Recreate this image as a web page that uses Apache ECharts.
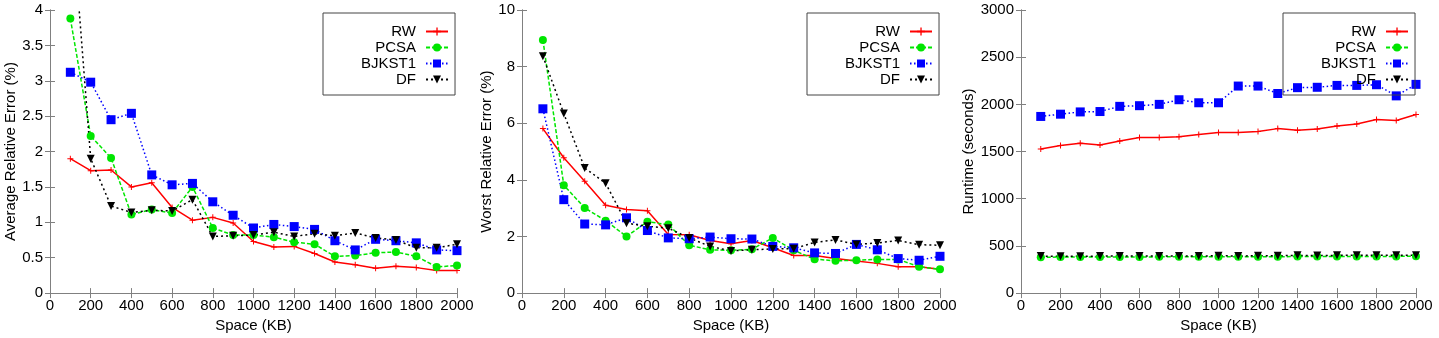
<!DOCTYPE html>
<html>
<head>
    <meta charset="utf-8">
    <title>RW / PCSA / BJKST1 / DF</title>
    <script src="https://cdn.jsdelivr.net/npm/echarts@6/dist/echarts.min.js"></script>
    <style>
        body, html { margin: 0; padding: 0; background: #fff; }
        #main { width: 1439px; height: 338px; }
    </style>
</head>
<body>
    <div id="main"></div>
    <script>
        // x values (Space, KB)
        const space = [100, 200, 300, 400, 500, 600, 700, 800, 900, 1000,
                       1100, 1200, 1300, 1400, 1500, 1600, 1700, 1800, 1900, 2000];
        const names = ['RW', 'PCSA', 'BJKST1', 'DF'];

        // Average relative error (%)
        const avgRW     = [1.90, 1.73, 1.74, 1.50, 1.56, 1.21, 1.03, 1.07, 0.99, 0.73, 0.65, 0.66, 0.56, 0.44, 0.40, 0.35, 0.38, 0.36, 0.32, 0.32];
        const avgPCSA   = [3.88, 2.22, 1.91, 1.11, 1.18, 1.13, 1.50, 0.92, 0.82, 0.82, 0.79, 0.72, 0.69, 0.52, 0.53, 0.57, 0.58, 0.52, 0.37, 0.39];
        const avgBJKST1 = [3.12, 2.98, 2.45, 2.54, 1.67, 1.53, 1.55, 1.29, 1.10, 0.92, 0.97, 0.94, 0.90, 0.74, 0.61, 0.76, 0.74, 0.71, 0.61, 0.60];
        const avgDF     = [5.60, 1.90, 1.23, 1.14, 1.17, 1.16, 1.32, 0.80, 0.81, 0.82, 0.86, 0.80, 0.84, 0.81, 0.85, 0.78, 0.75, 0.64, 0.64, 0.69];

        // Worst relative error (%)
        const worRW     = [5.81, 4.78, 3.95, 3.10, 2.95, 2.91, 2.07, 2.06, 1.86, 1.74, 1.86, 1.60, 1.33, 1.33, 1.22, 1.13, 1.05, 0.93, 0.93, 0.84];
        const worPCSA   = [8.94, 3.81, 3.01, 2.56, 2.00, 2.52, 2.42, 1.69, 1.53, 1.51, 1.55, 1.95, 1.51, 1.20, 1.14, 1.16, 1.19, 1.19, 0.93, 0.84];
        const worBJKST1 = [6.51, 3.30, 2.44, 2.41, 2.66, 2.21, 1.95, 1.92, 1.98, 1.92, 1.91, 1.65, 1.60, 1.42, 1.40, 1.72, 1.53, 1.22, 1.16, 1.30];
        const worDF     = [8.37, 6.34, 4.42, 3.88, 2.47, 2.36, 2.29, 1.95, 1.65, 1.49, 1.53, 1.56, 1.57, 1.79, 1.88, 1.72, 1.77, 1.86, 1.71, 1.69];

        // Runtime (seconds)
        const runRW     = [1528, 1563, 1587, 1570, 1611, 1649, 1649, 1656, 1681, 1701, 1701, 1712, 1743, 1726, 1740, 1771, 1792, 1840, 1830, 1892];
        const runPCSA   = [380, 382, 382, 383, 383, 383, 384, 384, 385, 385, 385, 386, 386, 387, 387, 388, 388, 389, 389, 390];
        const runBJKST1 = [1872, 1896, 1920, 1924, 1979, 1986, 2000, 2049, 2017, 2017, 2194, 2194, 2115, 2177, 2181, 2201, 2201, 2208, 2090, 2212];
        const runDF     = [392, 390, 391, 392, 393, 392, 393, 394, 394, 395, 394, 395, 396, 400, 398, 400, 401, 400, 401, 402];

        const panels = [
            { title: 'Average Relative Error (%)', max: 4, step: 0.5, data: [avgRW, avgPCSA, avgBJKST1, avgDF] },
            { title: 'Worst Relative Error (%)', max: 10, step: 2, data: [worRW, worPCSA, worBJKST1, worDF] },
            { title: 'Runtime (seconds)', max: 3000, step: 500, data: [runRW, runPCSA, runBJKST1, runDF] }
        ];

        // plot frames (pixels) and layout bits
        const grids = [
            { left: 50, right: 982, top: 10, bottom: 41 },
            { left: 522, right: 499, top: 10, bottom: 41 },
            { left: 1021, right: 23, top: 10, bottom: 41 }
        ];
        const nameGaps = [30, 26, 45];
        const legendLeft = [323, 807, 1283];

        const styles = [
            { color: '#ff0000', type: 'solid', symbol: 'path://M2.5,0h1v2.5h2.5v1h-2.5v2.5h-1v-2.5h-2.5v-1h2.5z', size: 6 },
            { color: '#00e600', type: [4, 2], symbol: 'circle', size: 8 },
            { color: '#0000ff', type: [1.5, 2.5], symbol: 'rect', size: 9 },
            { color: '#000000', type: [2, 3], symbol: 'path://M0,0L10,0L5,9Z', size: 8 }
        ];

        const frame = '#808080';
        const font = 'Liberation Sans, Arial, sans-serif';
        const plain = v => String(v);

        var chart = echarts.init(document.getElementById('main'));

        const xAxis = [], yAxis = [], series = [], legend = [];
        panels.forEach((p, i) => {
            xAxis.push({
                gridIndex: i, type: 'value', min: 0, max: 2000, interval: 200,
                name: 'Space (KB)', nameLocation: 'middle', nameGap: 20,
                nameTextStyle: { color: '#000', fontSize: 15, fontFamily: font },
                axisLine: { lineStyle: { color: frame, width: 1 } },
                axisTick: { inside: true, length: 5, lineStyle: { color: frame } },
                axisLabel: { color: '#000', fontSize: 15, fontFamily: font, margin: 5, formatter: plain },
                splitLine: { show: false }
            });
            xAxis.push({
                gridIndex: i, type: 'value', position: 'top', min: 0, max: 2000, interval: 200,
                axisLine: { lineStyle: { color: frame, width: 1 } },
                axisTick: { inside: true, length: 5, lineStyle: { color: frame } },
                axisLabel: { show: false }, splitLine: { show: false }
            });
            yAxis.push({
                gridIndex: i, type: 'value', min: 0, max: p.max, interval: p.step,
                name: p.title, nameLocation: 'middle', nameGap: nameGaps[i],
                nameTextStyle: { color: '#000', fontSize: 15, fontFamily: font },
                axisLine: { show: true, lineStyle: { color: frame, width: 1 } },
                axisTick: { show: true, inside: true, length: 5, lineStyle: { color: frame } },
                axisLabel: { color: '#000', fontSize: 15, fontFamily: font, margin: 7, formatter: plain },
                splitLine: { show: false }
            });
            yAxis.push({
                gridIndex: i, type: 'value', position: 'right', min: 0, max: p.max, interval: p.step,
                axisLine: { show: true, lineStyle: { color: frame, width: 1 } },
                axisTick: { show: true, inside: true, length: 5, lineStyle: { color: frame } },
                axisLabel: { show: false }, splitLine: { show: false }
            });
            p.data.forEach((vals, k) => {
                const s = styles[k];
                series.push({
                    name: names[k], type: 'line',
                    xAxisIndex: 2 * i, yAxisIndex: 2 * i,
                    data: space.map((x, j) => [x, vals[j]]),
                    symbol: s.symbol, symbolSize: s.size, showSymbol: true,
                    clip: true, animation: false,
                    itemStyle: { color: s.color },
                    lineStyle: { color: s.color, width: 1.5, type: s.type }
                });
            });
            legend.push({
                data: names, orient: 'vertical', align: 'right',
                left: legendLeft[i], top: 13,
                padding: [11, 6, 8, 38],
                itemWidth: 22, itemHeight: 10, itemGap: 1,
                borderColor: '#444', borderWidth: 1,
                selectedMode: false,
                textStyle: { color: '#000', fontSize: 15, lineHeight: 15, fontFamily: font, padding: [0, 5, 0, 0] }
            });
        });

        chart.setOption({
            backgroundColor: '#fff',
            animation: false,
            grid: grids,
            xAxis: xAxis,
            yAxis: yAxis,
            legend: legend,
            series: series
        });
    </script>
</body>
</html>
